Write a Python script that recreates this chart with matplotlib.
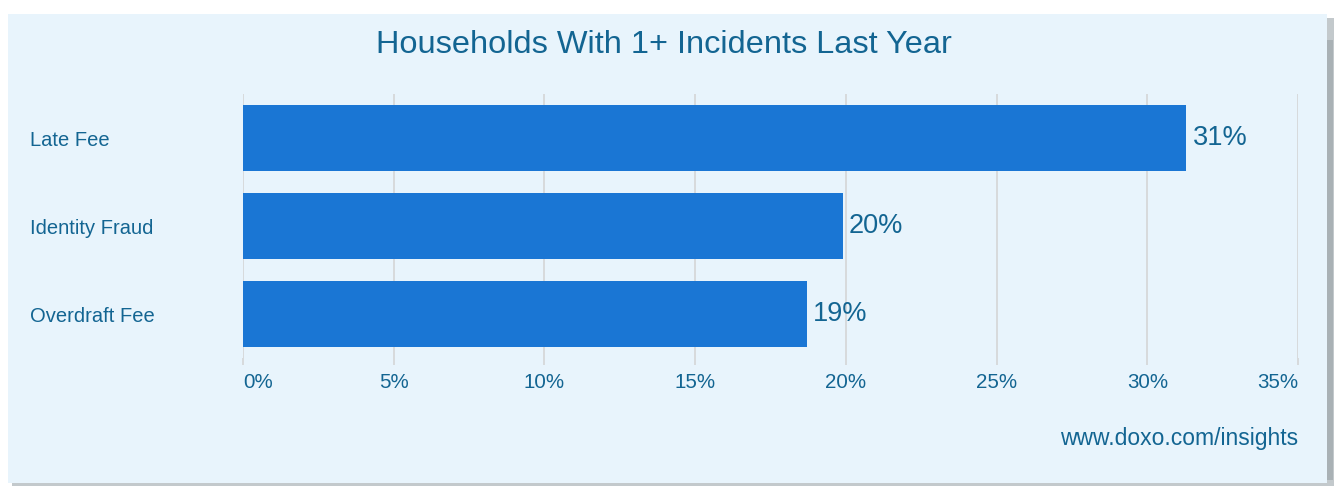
import matplotlib.pyplot as plt
from matplotlib.patches import Rectangle

plt.rcParams['font.family'] = ['Liberation Sans', 'DejaVu Sans']

categories = ['Late Fee', 'Identity Fraud', 'Overdraft Fee']
values = [31.3, 19.9, 18.7]  # percent
tick_values = [0, 5, 10, 15, 20, 25, 30, 35]
tick_labels = ['0%', '5%', '10%', '15%', '20%', '25%', '30%', '35%']

title = 'Households With 1+ Incidents Last Year'
source = 'www.doxo.com/insights'

text_col = '#136592'
bar_col = '#1A76D4'
bg_col = '#E8F4FC'
grid_col = '#D6D8D9'

W, H = 1339, 487
fig = plt.figure(figsize=(W / 100, H / 100), dpi=100)
fig.patch.set_facecolor('white')

# panel with a small shadow, in pixel units
def px_rect(x0, y0, x1, y1, **kw):
    return Rectangle((x0 / W, 1 - y1 / H), (x1 - x0) / W, (y1 - y0) / H,
                     transform=fig.transFigure, **kw)

fig.patches.append(px_rect(12, 18, 1334, 486, facecolor='#C3C9CC', edgecolor='none', zorder=-3))
fig.patches.append(px_rect(1326, 40, 1333, 480, facecolor='#A9B1B5', edgecolor='none', zorder=-2))
fig.patches.append(px_rect(8, 14, 1327, 483, facecolor=bg_col, edgecolor='none', zorder=-1))

ax = fig.add_axes([243 / W, 1 - 358 / H, (1298 - 243) / W, (358 - 94) / H])
ax.set_facecolor('none')

y = list(range(len(categories)))
bars = ax.barh(y, values, height=0.76, color=bar_col, zorder=3)
ax.bar_label(bars, labels=[f'{round(v)}%' for v in values], padding=4.5,
             color=text_col, fontsize=19.5)

ax.set_xlim(0, 35)
ax.set_ylim(len(categories) - 0.5, -0.5)

ax.set_xticks(tick_values)
ax.set_xticklabels(tick_labels, fontsize=14.8, color=text_col)
xl = ax.get_xticklabels()
xl[0].set_ha('left')
xl[-1].set_ha('right')
ax.tick_params(axis='x', length=5, color=grid_col, width=1.3, pad=6)
ax.grid(axis='x', color=grid_col, linewidth=1.3, zorder=0)

ax.set_yticks(y)
ax.set_yticklabels(categories, fontsize=14.5, color=text_col, ha='left',
                   va='center_baseline')
ax.tick_params(axis='y', length=0, pad=153)

for s in ax.spines.values():
    s.set_visible(False)

fig.text(664 / W, 1 - 45 / H, title, ha='center', va='center',
         fontsize=23.4, color=text_col)
fig.text(1298 / W, 1 - 438 / H, source, ha='right', va='center',
         fontsize=16.5, color=text_col)

fig.savefig('out.png', dpi=100)
